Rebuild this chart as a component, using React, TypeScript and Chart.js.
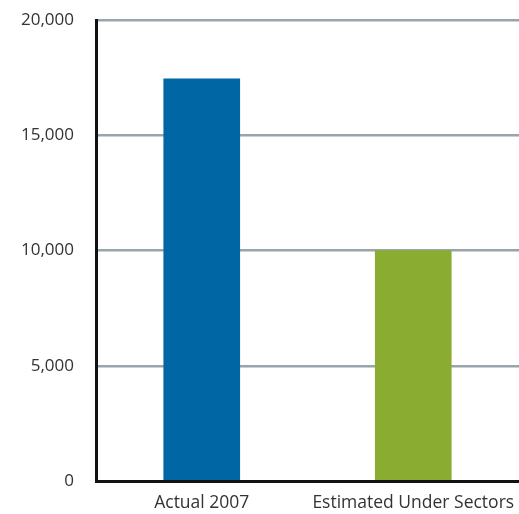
import React, { useEffect, useRef } from "react";
import { Chart, registerables } from "chart.js";

Chart.register(...registerables);

const categories = ["Actual 2007", "Estimated Under Sectors"];
const values = [17450, 10000];
const barColors = ["#0066a4", "#8aac31"];
const yTicks = [0, 5000, 10000, 15000, 20000];

export default function App() {
  const ref = useRef<HTMLCanvasElement | null>(null);
  useEffect(() => {
    if (!ref.current) return;
    const chart = new Chart(ref.current, {
      type: "bar",
      data: {
        labels: categories,
        datasets: [
          {
            data: values,
            backgroundColor: barColors,
            barThickness: 76,
            borderWidth: 0,
          },
        ],
      },
      options: {
        animation: false,
        responsive: false,
        devicePixelRatio: 1,
        layout: { padding: { top: 20, right: 0, left: 0, bottom: 0 } },
        plugins: { legend: { display: false }, tooltip: { enabled: false } },
        scales: {
          x: {
            grid: { display: false, drawTicks: false },
            border: { display: true, color: "#111111", width: 3 },
            ticks: {
              color: "#333333",
              font: { family: "Open Sans", size: 17.5 },
              padding: 12,
            },
            afterFit: (s: any) => {
              s.height = 33;
              s.paddingLeft = 0;
              s.paddingRight = 0;
            },
          },
          y: {
            min: 0,
            max: 20000,
            afterBuildTicks: (s: any) => {
              s.ticks = yTicks.map((v) => ({ value: v }));
            },
            grid: {
              color: (ctx: any) => (ctx.tick && ctx.tick.value === 0 ? "rgba(0,0,0,0)" : "#98a5ad"),
              lineWidth: 2.5,
              drawTicks: false,
            },
            border: { display: true, color: "#111111", width: 3 },
            ticks: {
              color: "#333333",
              font: { family: "Open Sans", size: 17 },
              padding: 22,
              callback: (v: any) => Number(v).toLocaleString("en-US"),
            },
            afterFit: (s: any) => {
              s.width = 96;
              s.paddingTop = 0;
              s.paddingBottom = 0;
            },
          },
        },
      },
    });
    return () => chart.destroy();
  }, []);
  return (
    <div style={{ position: "fixed", left: 0, top: 0, width: 519, height: 514, background: "#fff" }}>
      <canvas ref={ref} width={519} height={514} style={{ width: 519, height: 514 }} />
    </div>
  );
}
